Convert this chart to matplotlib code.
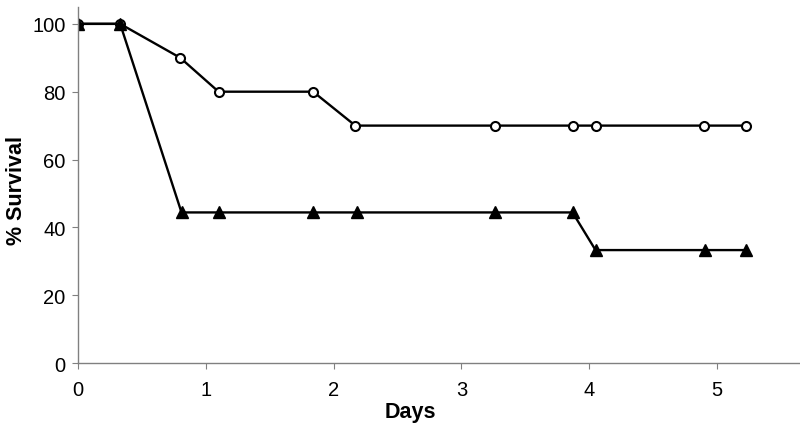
import matplotlib.pyplot as plt

plt.rcParams['font.family'] = ['Liberation Sans', 'DejaVu Sans']

# data
days_a = [0, 0.33, 0.80, 1.10, 1.84, 2.17, 3.26, 3.87, 4.05, 4.90, 5.23]
surv_a = [100, 100, 90, 80, 80, 70, 70, 70, 70, 70, 70]
days_b = [0, 0.33, 0.81, 1.10, 1.84, 2.18, 3.26, 3.87, 4.05, 4.91, 5.23]
surv_b = [100, 100, 44.4, 44.4, 44.4, 44.4, 44.4, 44.4, 33.3, 33.3, 33.3]
xticks = [0, 1, 2, 3, 4, 5]
yticks = [0, 20, 40, 60, 80, 100]

fig = plt.figure(figsize=(8, 4.27), dpi=100)
ax = fig.add_axes([0.0975, 0.1475, 0.9025, 0.834])

ax.plot(days_a, surv_a, color='black', lw=1.7, marker='o', ms=6.5,
        mfc='white', mec='black', mew=1.5)
ax.plot(days_b, surv_b, color='black', lw=1.7, marker='^', ms=8.5,
        mfc='black', mec='black')

ax.set_xlim(0, 5.65)
ax.set_ylim(0, 105)
ax.set_xticks(xticks)
ax.set_yticks(yticks)
for s in ['top', 'right']:
    ax.spines[s].set_visible(False)
for s in ['left', 'bottom']:
    ax.spines[s].set_color('#808080')
    ax.spines[s].set_linewidth(1.0)
ax.tick_params(direction='out', length=4, color='#808080', labelsize=14.5, pad=5)
ax.tick_params(axis='x', pad=8)

ax.set_xlabel('Days', fontsize=15.5, fontweight='bold')
ax.set_ylabel('% Survival', fontsize=15.5, fontweight='bold')
ax.xaxis.set_label_coords(0.46, -0.107)
ax.yaxis.set_label_coords(-0.071, 0.486)

fig.savefig('out.png', dpi=100)
